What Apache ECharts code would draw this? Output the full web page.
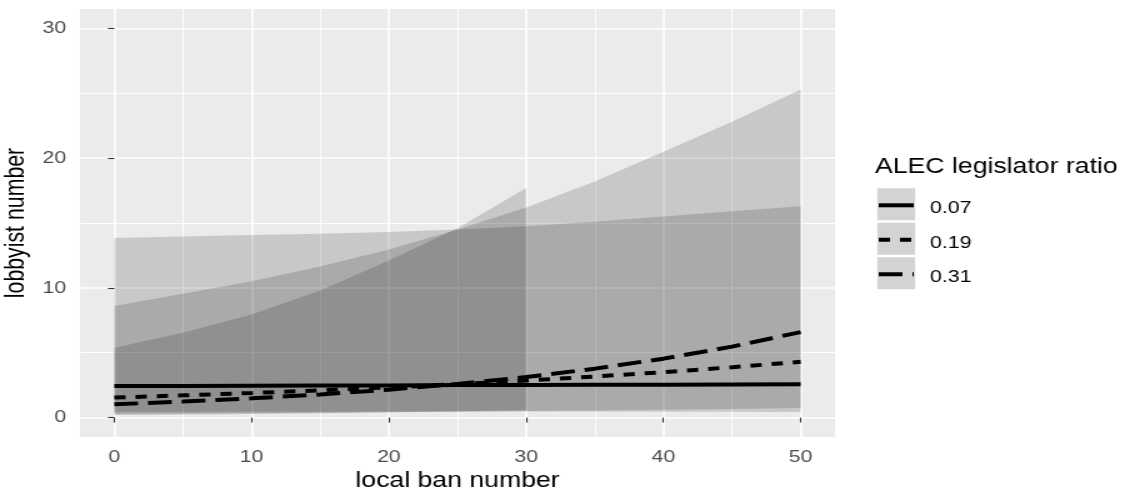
<!DOCTYPE html>
<html>
<head>
<meta charset="utf-8">
<title>lobbyist number vs local ban number</title>
<script src="https://cdn.jsdelivr.net/npm/echarts@6/dist/echarts.min.js"></script>
<style>
  html, body { margin: 0; padding: 0; background: #fff; overflow: hidden; }
  /* the reference is a horizontally stretched ggplot export, so draw at 900px and stretch */
  #chart { width: 900px; height: 499px; transform: scaleX(1.25); transform-origin: 0 0; }
</style>
</head>
<body>
<div id="chart"></div>
<script>
// x positions (local ban number)
var banX = [0, 5, 10, 15, 20, 25, 30, 35, 40, 45, 50];
var banX031 = [0, 5, 10, 15, 20, 25, 30];   // the 0.31 band stops at 30

// fitted lobbyist number per ALEC legislator ratio
var fit007 = [2.43, 2.44, 2.46, 2.47, 2.48, 2.50, 2.51, 2.52, 2.53, 2.55, 2.56];
var fit019 = [1.54, 1.71, 1.89, 2.10, 2.32, 2.57, 2.85, 3.16, 3.50, 3.88, 4.30];
var fit031 = [1.02, 1.23, 1.48, 1.78, 2.15, 2.59, 3.12, 3.77, 4.54, 5.47, 6.59];

// confidence bands
var low007 = [0.42, 0.43, 0.44, 0.45, 0.46, 0.47, 0.47, 0.46, 0.45, 0.44, 0.42];
var up007  = [13.85, 13.96, 14.07, 14.18, 14.30, 14.50, 14.75, 15.10, 15.50, 15.90, 16.30];
var low019 = [0.27, 0.30, 0.33, 0.37, 0.41, 0.45, 0.50, 0.55, 0.60, 0.66, 0.73];
var up019  = [8.60, 9.55, 10.50, 11.65, 12.95, 14.50, 16.20, 18.20, 20.50, 22.80, 25.30];
var low031 = [0.19, 0.23, 0.27, 0.33, 0.40, 0.49, 0.59];
var up031  = [5.38, 6.54, 7.95, 9.79, 12.10, 14.60, 17.70];

// ticks
var xTicks = [0, 10, 20, 30, 40, 50];
var xMinor = [5, 15, 25, 35, 45];
var yTicks = [0, 10, 20, 30];
var yMinor = [5, 15, 25];

var ratioNames = ['0.07', '0.19', '0.31'];

var FONT = '"Liberation Sans", Arial, sans-serif';

function pairs(xs, ys) {
  return xs.map(function (x, i) { return [x, ys[i]]; });
}

function ribbon(name, xs, lo, hi) {
  return {
    name: name,
    type: 'custom',
    silent: true,
    data: xs.map(function (x, i) { return [x, lo[i], hi[i]]; }),
    encode: { x: 0, y: [1, 2] },
    renderItem: function (params, api) {
      if (params.dataIndex !== 0) return;
      var pts = [];
      for (var i = 0; i < xs.length; i++) pts.push(api.coord([xs[i], hi[i]]));
      for (var j = xs.length - 1; j >= 0; j--) pts.push(api.coord([xs[j], lo[j]]));
      return {
        type: 'polygon',
        shape: { points: pts },
        style: { fill: 'rgba(0,0,0,0.15)' }
      };
    }
  };
}

function fitLine(name, ys, dash) {
  return {
    name: name,
    type: 'line',
    data: pairs(banX, ys),
    symbol: 'none',
    silent: true,
    lineStyle: { color: '#000', width: 4, type: dash, cap: 'butt' }
  };
}

// legend keys (ggplot style grey boxes)
var keyTop = [188.3, 222.8, 257.3];
var keyDash = ['solid', [9, 8], [19, 8]];
var legendItems = [{
  type: 'text', x: 700, y: 167,
  style: { text: 'ALEC legislator ratio', font: '21.3px ' + FONT, fill: '#000',
           textAlign: 'left', textVerticalAlign: 'middle' }
}];
ratioNames.forEach(function (nm, i) {
  var cy = keyTop[i] + 17;
  legendItems.push({
    type: 'rect', shape: { x: 701.9, y: keyTop[i], width: 30.2, height: 32 },
    style: { fill: '#D3D3D3' }
  });
  legendItems.push({
    type: 'line', shape: { x1: 703, y1: cy, x2: 731, y2: cy },
    style: { stroke: '#000', lineWidth: 4, lineDash: keyDash[i] === 'solid' ? null : keyDash[i] }
  });
  legendItems.push({
    type: 'text', x: 744, y: keyTop[i] + 20.3,
    style: { text: nm, font: '17px ' + FONT, fill: '#000',
             textAlign: 'left', textVerticalAlign: 'middle' }
  });
});

var chart = echarts.init(document.getElementById('chart'));

chart.setOption({
  animation: false,
  backgroundColor: '#fff',
  textStyle: { fontFamily: FONT },
  grid: {
    left: 64, right: 232, top: 9, bottom: 62,
    outerBoundsMode: 'none', containLabel: false,
    show: true, backgroundColor: '#EBEBEB', borderWidth: 0
  },
  xAxis: [{
    type: 'value', min: -2.5, max: 52.5,
    name: 'local ban number', nameLocation: 'middle', nameGap: 34,
    nameTextStyle: { fontSize: 21.3, color: '#000', fontFamily: FONT },
    axisLine: { show: false },
    axisTick: { show: true, length: 5, customValues: xTicks, lineStyle: { color: '#333', width: 1.1 } },
    axisLabel: { customValues: xTicks, margin: 12, fontSize: 17, color: '#4D4D4D', fontFamily: FONT },
    splitLine: { show: true, lineStyle: { color: '#fff', width: 1.6 } }
  }, {
    // minor grid only
    type: 'value', min: -2.5, max: 52.5, position: 'bottom',
    axisLine: { show: false },
    axisTick: { show: false, customValues: xMinor },
    axisLabel: { show: false, customValues: xMinor },
    splitLine: { show: true, lineStyle: { color: '#fff', width: 0.9 } }
  }],
  yAxis: [{
    type: 'value', min: -1.5, max: 31.5,
    name: 'lobbyist number', nameLocation: 'middle', nameGap: 34,
    nameTextStyle: { fontSize: 21.3, color: '#000', fontFamily: FONT },
    axisLine: { show: false },
    axisTick: { show: true, length: 5, customValues: yTicks, lineStyle: { color: '#333', width: 1.1 } },
    axisLabel: { customValues: yTicks, margin: 11, fontSize: 17, color: '#4D4D4D', fontFamily: FONT },
    splitLine: { show: true, lineStyle: { color: '#fff', width: 1.6 } }
  }, {
    type: 'value', min: -1.5, max: 31.5, position: 'left',
    axisLine: { show: false },
    axisTick: { show: false, customValues: yMinor },
    axisLabel: { show: false, customValues: yMinor },
    splitLine: { show: true, lineStyle: { color: '#fff', width: 0.9 } }
  }],
  graphic: legendItems,
  series: [
    ribbon('0.07', banX, low007, up007),
    ribbon('0.19', banX, low019, up019),
    ribbon('0.31', banX031, low031, up031),
    fitLine('0.07', fit007, 'solid'),
    fitLine('0.19', fit019, [9, 8]),
    fitLine('0.31', fit031, [19, 8])
  ]
});
</script>
</body>
</html>
